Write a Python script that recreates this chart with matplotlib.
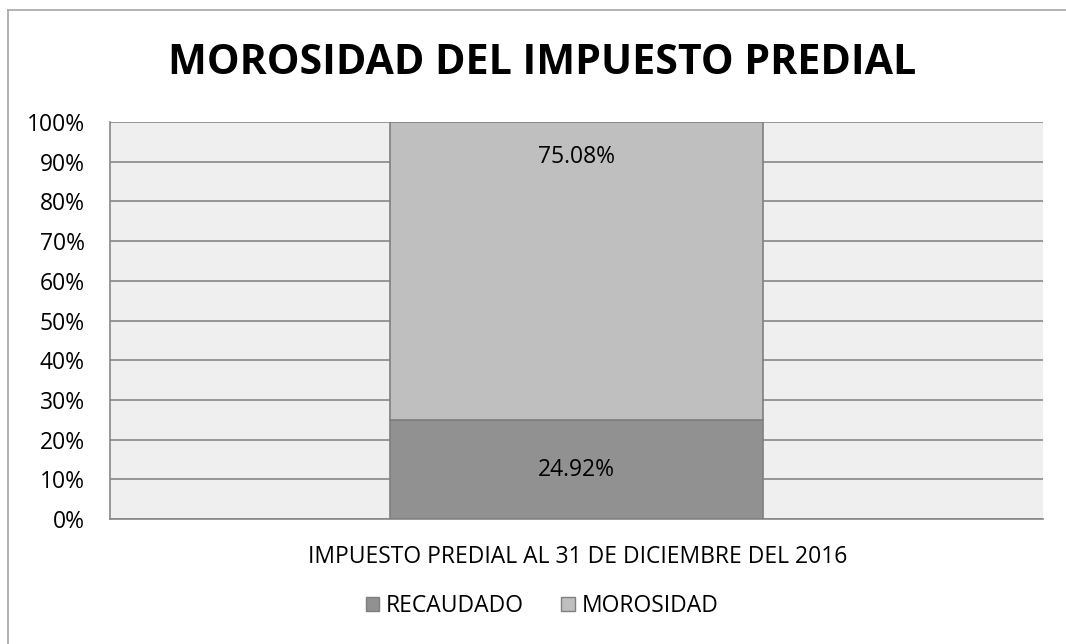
import matplotlib.pyplot as plt
from matplotlib.lines import Line2D
from matplotlib.patches import Patch

categories = ['IMPUESTO PREDIAL AL 31 DE DICIEMBRE DEL 2016']
series_names = ['RECAUDADO', 'MOROSIDAD']
recaudado = [0.2492]
morosidad = [0.7508]
yticks = [0, 0.1, 0.2, 0.3, 0.4, 0.5, 0.6, 0.7, 0.8, 0.9, 1.0]
colors = ['#919191', '#bfbfbf']

plt.rcParams['font.family'] = ['Open Sans', 'DejaVu Sans']

W, H = 1066, 644
fig = plt.figure(figsize=(W / 100, H / 100), dpi=100)
ax = fig.add_axes([110 / W, 1 - 519 / H, (1043 - 110) / W, (519 - 122) / H])
ax.set_facecolor('#efefef')

fs = 16.5
x = range(len(categories))
b1 = ax.bar(x, recaudado, width=0.4, color=colors[0], edgecolor='#7f7f7f', linewidth=1.2, zorder=3)
b2 = ax.bar(x, morosidad, width=0.4, bottom=recaudado, color=colors[1], edgecolor='#7f7f7f',
            linewidth=1.2, zorder=3)

ax.set_xlim(-0.5, 0.5)
ax.set_ylim(0, 1)
ax.set_yticks(yticks)
ax.set_yticklabels([f'{int(round(t * 100))}%' for t in yticks], fontsize=fs)
ax.set_xticks([])
ax.grid(axis='y', color='#878787', linewidth=1.2, zorder=1)
ax.tick_params(axis='y', length=0, pad=18)

for s in ['top', 'right']:
    ax.spines[s].set_visible(False)
for s in ['left', 'bottom']:
    ax.spines[s].set_color('#878787')
    ax.spines[s].set_linewidth(1.2)

for i in x:
    ax.text(i, recaudado[i] / 2, f'{recaudado[i] * 100:.2f}%', ha='center', va='center',
            fontsize=fs, zorder=4)
    ax.annotate(f'{morosidad[i] * 100:.2f}%', xy=(i, recaudado[i] + morosidad[i]),
                xytext=(0, -25), textcoords='offset points', ha='center', va='center',
                fontsize=fs, zorder=4)

fig.text(542 / W, 1 - 64 / H, 'MOROSIDAD DEL IMPUESTO PREDIAL', ha='center', va='center',
         fontsize=29.6, fontweight='bold')
fig.text(578 / W, 1 - 557 / H, categories[0], ha='center', va='center', fontsize=fs)

handles = [Patch(facecolor=colors[0], edgecolor='#7f7f7f'), Patch(facecolor=colors[1], edgecolor='#7f7f7f')]
fig.legend(handles, series_names, loc='center', bbox_to_anchor=(542 / W, 1 - 606 / H), ncol=2,
           frameon=False, fontsize=fs, handlelength=0.6, handleheight=0.6, handletextpad=0.3,
           columnspacing=1.6)

# outer chart border (only top and left visible)
fig.add_artist(Line2D([8 / W, 8 / W], [0, 1 - 10 / H], color='#a6a6a6', linewidth=1.2))
fig.add_artist(Line2D([8 / W, 1], [1 - 10 / H, 1 - 10 / H], color='#a6a6a6', linewidth=1.2))

fig.savefig('out.png', dpi=100)
